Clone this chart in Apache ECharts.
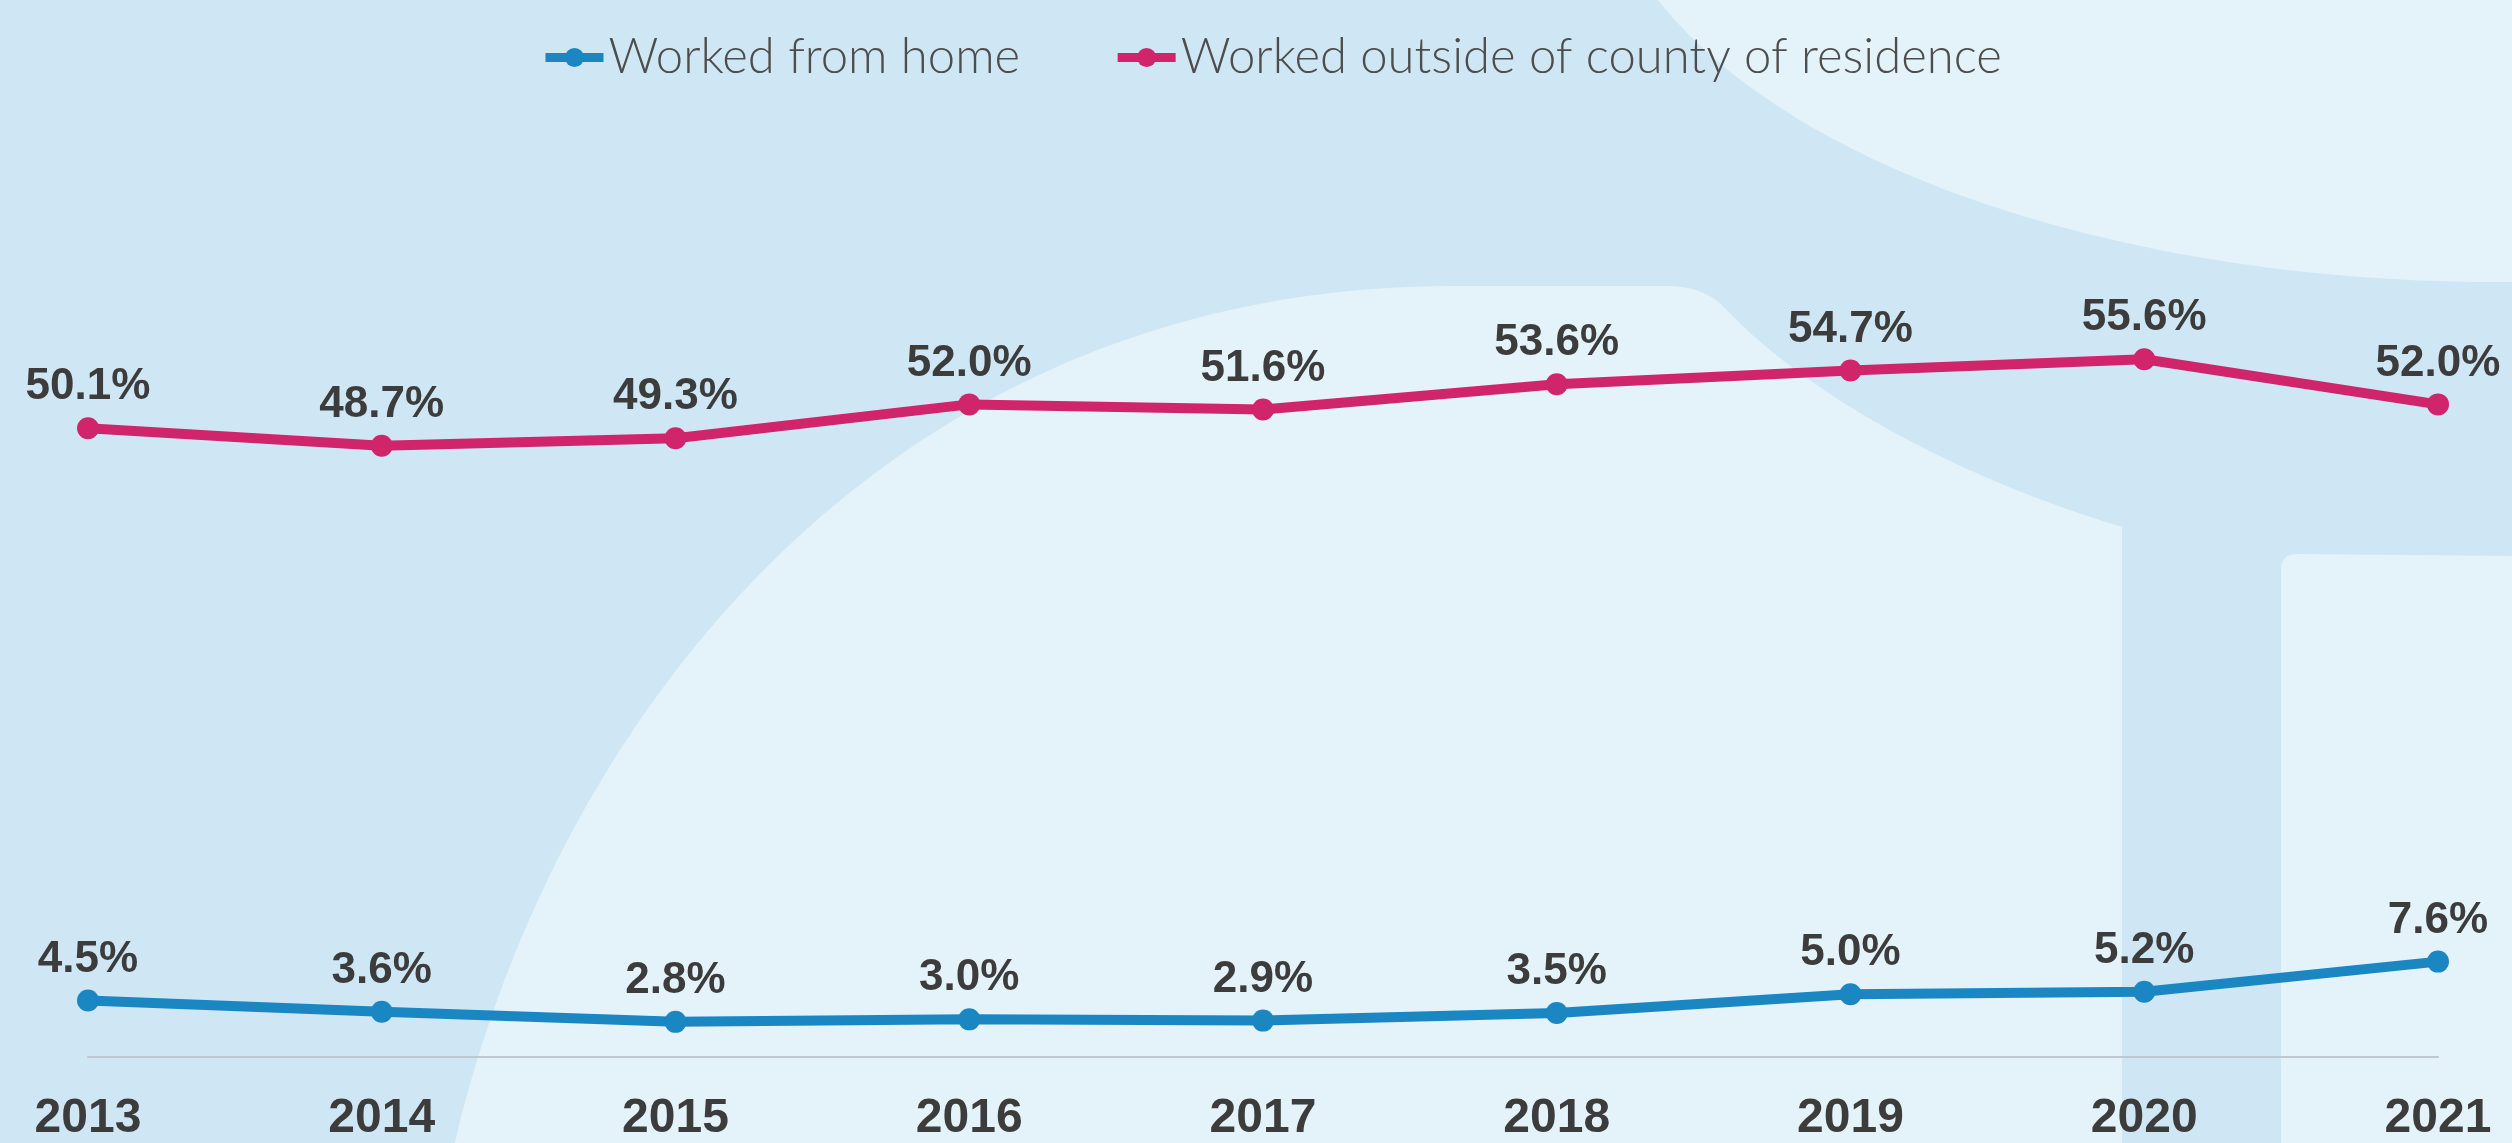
<!DOCTYPE html>
<html>
<head>
<meta charset="utf-8">
<script src="https://cdn.jsdelivr.net/npm/echarts@6/dist/echarts.min.js"></script>
<style>
  html, body { margin: 0; padding: 0; }
  #chart { width: 2512px; height: 1143px; }
</style>
</head>
<body>
<div id="chart"></div>
<script>
const years = ["2013", "2014", "2015", "2016", "2017", "2018", "2019", "2020", "2021"];
const workedFromHome = [4.5, 3.6, 2.8, 3.0, 2.9, 3.5, 5.0, 5.2, 7.6];
const workedOutsideCounty = [50.1, 48.7, 49.3, 52.0, 51.6, 53.6, 54.7, 55.6, 52.0];

const blue = "#1a86c2";
const pink = "#d0256b";
const bgDark = "#cfe7f4";
const bgLight = "#e4f2fa";

const chart = echarts.init(document.getElementById("chart"));

const labelStyle = {
  show: true,
  position: "top",
  distance: 8,
  fontFamily: "Liberation Sans, Arial, sans-serif",
  fontWeight: "bold",
  fontSize: 44,
  color: "#3c3c3c",
  formatter: (p) => p.value.toFixed(1) + "%"
};

// decorative background shapes (pixel paths)
const shapes = [
  "M1658 0 C1800 180 2150 285 2512 282 L2512 0 Z",
  "M455 1143 C560 700 900 286 1453 286 L1668 286 Q1700 286 1721 304 C1800 390 1950 475 2122 527 L2122 1143 Z",
  "M2281 570 Q2281 554 2297 554 L2512 556 L2512 1143 L2281 1143 Z"
];

chart.setOption({
  backgroundColor: bgDark,
  animation: false,
  legend: {
    top: 28,
    left: 536,
    itemWidth: 58,
    itemHeight: 24,
    itemGap: 93,
    data: ["Worked from home", "Worked outside of county of residence"],
    lineStyle: { width: 9 },
    textStyle: {
      fontFamily: "Lato, Open Sans, sans-serif",
      fontWeight: 300,
      fontSize: 49,
      color: "#4d4d4d"
    }
  },
  grid: { left: 88, right: 74, top: 304, bottom: 85 },
  xAxis: {
    type: "category",
    data: years,
    boundaryGap: false,
    axisTick: { show: false },
    axisLine: { show: true, lineStyle: { color: "#bcc9d0", width: 2 } },
    axisLabel: {
      margin: 38,
      fontFamily: "Liberation Sans, Arial, sans-serif",
      fontWeight: "bold",
      fontSize: 48,
      color: "#3c3c3c"
    }
  },
  yAxis: {
    type: "value",
    min: 0,
    max: 60,
    show: false,
    splitLine: { show: false }
  },
  series: [
    {
      type: "custom",
      coordinateSystem: "none",
      silent: true,
      z: 0,
      data: [0],
      renderItem: () => ({
        type: "group",
        children: shapes.map((d) => ({
          type: "path",
          shape: { pathData: d },
          style: { fill: bgLight }
        }))
      })
    },
    {
      name: "Worked from home",
      type: "line",
      data: workedFromHome,
      symbol: "circle",
      symbolSize: 22,
      lineStyle: { color: blue, width: 10 },
      itemStyle: { color: blue },
      label: labelStyle
    },
    {
      name: "Worked outside of county of residence",
      type: "line",
      data: workedOutsideCounty,
      symbol: "circle",
      symbolSize: 22,
      lineStyle: { color: pink, width: 10 },
      itemStyle: { color: pink },
      label: labelStyle
    }
  ]
});

window.addEventListener("resize", () => chart.resize());
</script>
</body>
</html>
